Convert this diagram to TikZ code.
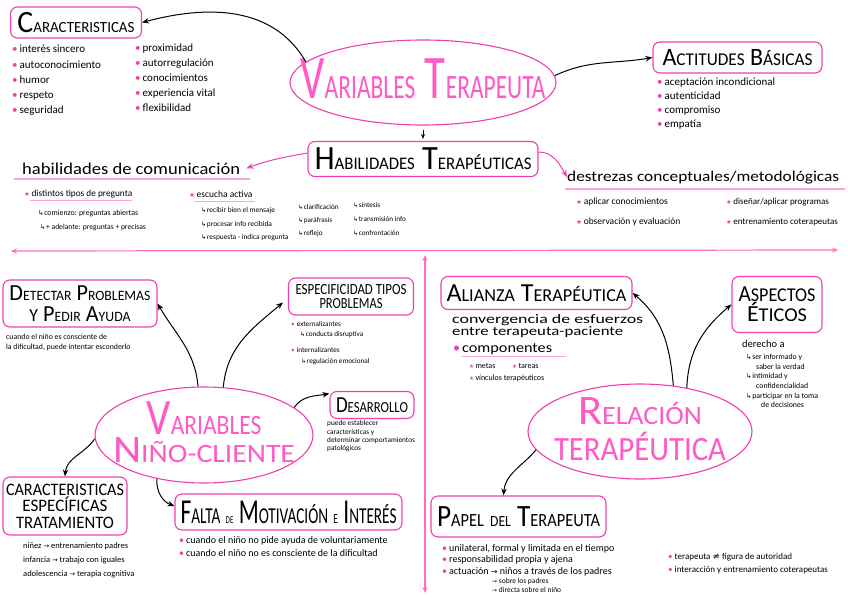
\documentclass[tikz,border=0pt]{standalone}
\usepackage{fontspec}
\setmainfont{Carlito}
\newfontfamily\symf{DejaVu Sans}
\usepackage{graphicx}
\usetikzlibrary{arrows.meta,shapes.geometric}
\definecolor{pk}{HTML}{F03FAE}
\definecolor{pkt}{HTML}{FF5AC6}
\definecolor{pkl}{HTML}{FFA3D9}
\definecolor{pkd}{HTML}{FF6CC8}
\newcommand\SC[3][0.6]{#2\scalebox{#1}{#3}}
\newcommand\fitw[2]{\resizebox{#1}{\height}{#2}}
\newcommand\bul{{\color{pk}\textbullet}\hspace{2pt}}
\newcommand\pst{{\symf\color{pk}\scalebox{0.7}{★}}}
\newcommand\subh{{\symf\scalebox{0.85}{↳}}\hspace{0.5pt}}
\newcommand\rarr{{\symf\scalebox{0.8}{→}}}
\newcommand\ctr[2][0pt]{\makebox[0pt]{\raisebox{#1}[0pt][0pt]{\raisebox{-0.5\height}{#2}}}}
\newcommand\twol[3]{\vbox{\baselineskip=#1\lineskiplimit=-100pt\halign{\hfil##\hfil\cr#2\cr#3\cr}}}
\begin{document}
\begin{tikzpicture}[x=1pt,y=-1pt,
 box/.style={draw=pk,line width=1.1pt,rounded corners=7pt,inner sep=0pt,align=center,text=black},
 ell/.style={draw=pk,line width=1.1pt,ellipse,inner sep=0pt,text=pkt},
 arr/.style={-{Stealth[length=7pt,width=5.5pt]},line width=1pt},
 parr/.style={-{Stealth[length=7pt,width=5.5pt]},line width=1pt,draw=pk},
 lst/.style={anchor=north west,align=left,inner sep=0pt},
 ln/.style={anchor=base west,inner sep=0pt},
 uline/.style={draw=pkl,line width=1.3pt},
 divl/.style={draw=pkd,line width=1.2pt,{Stealth[length=6pt,width=5pt]}-{Stealth[length=6pt,width=5pt]}}]
\path[use as bounding box,fill=white] (0,0) rectangle (848,599);

% ---------- top: variables terapeuta ----------
\node[ell,minimum width=266pt,minimum height=85pt] (vt) at (423,82.5)
  {\ctr[4pt]{\fontsize{62}{62}\selectfont\fitw{245pt}{\SC[0.55]{V}{ARIABLES} \SC[0.55]{T}{ERAPEUTA}}}};

\node[box,minimum width=131pt,minimum height=31pt] (car) at (76,22.5)
  {\fontsize{31}{31}\selectfont\fitw{117pt}{\SC[0.5]{C}{ARACTERISTICAS}}};
\node[lst,font=\fontsize{11}{15.3}\selectfont] (carl1) at (12,45)
  {\bul interés sincero\\\bul autoconocimiento\\\bul humor\\\bul respeto\\\bul seguridad};
\node[lst,font=\fontsize{11}{15}\selectfont] (carl2) at (135,44)
  {\bul proximidad\\\bul autorregulación\\\bul conocimientos\\\bul experiencia vital\\\bul flexibilidad};

\node[box,minimum width=169pt,minimum height=31pt] (act) at (737.5,57.5)
  {\fontsize{25}{25}\selectfont\fitw{150pt}{\SC[0.72]{A}{CTITUDES} \SC[0.72]{B}{ÁSICAS}}};
\node[lst,font=\fontsize{11}{14}\selectfont] (actl) at (657,77.5)
  {\bul aceptación incondicional\\\bul autenticidad\\\bul compromiso\\\bul empatía};

\node[box,minimum width=230pt,minimum height=35pt] (hab) at (423,159)
  {\fontsize{34}{34}\selectfont\fitw{217pt}{\SC[0.52]{H}{ABILIDADES} \SC[0.52]{T}{ERAPÉUTICAS}}};

\draw[arr] (vt.170) to[out=120,in=15] (car.east);
\draw[arr] (vt.3) to[out=25,in=190] (act.west);
\draw[arr,-{Stealth[length=5pt,width=4pt]},shorten <=4pt,shorten >=2pt] (vt.south) -- (hab.north);

% ---------- habilidades de comunicacion ----------
\node[ln,font=\fontsize{16.5}{16.5}\selectfont] (hdc) at (22,174) {\fitw{218pt}{habilidades de comunicación}};
\draw[uline] ([xshift=-8pt,yshift=-5pt]hdc.base west) -- ([xshift=10pt,yshift=-5pt]hdc.base east);
\draw[parr] ([yshift=6pt]hab.west) to[out=190,in=20] ([xshift=6pt]hdc.east);

\node[ln,font=\fontsize{9.3}{9.3}\selectfont] (dtp) at (24,196) {\pst\,distintos tipos de pregunta};
\draw[uline,line width=1pt] ([xshift=6pt,yshift=-4pt]dtp.base west) -- ([yshift=-4pt]dtp.base east);
\node[ln,font=\fontsize{7.8}{7.8}\selectfont] (dtp1) at (38,215) {\subh comienzo: preguntas abiertas};
\node[ln,font=\fontsize{7.6}{7.6}\selectfont] (dtp2) at (40,229) {\subh + adelante: preguntas + precisas};

\node[ln,font=\fontsize{9.5}{9.5}\selectfont] (esc) at (189,197) {\pst\,escucha activa};
\draw[uline,line width=1pt] ([xshift=5pt,yshift=-4pt]esc.base west) -- ([xshift=2pt,yshift=-4pt]esc.base east);
\node[lst,font=\fontsize{7.4}{13.5}\selectfont] (escl) at (201,207.5)
  {\subh recibir bien el mensaje\\\subh procesar info recibida\\\subh respuesta - indica pregunta};
\node[lst,font=\fontsize{7.2}{13}\selectfont] (escm) at (298,204)
  {\subh clarificación\\\subh paráfrasis\\\subh reflejo};
\node[lst,font=\fontsize{7.2}{14}\selectfont] (escr) at (353,202)
  {\subh síntesis\\\subh transmisión info\\\subh confrontación};

% ---------- destrezas ----------
\node[ln,font=\fontsize{15}{15}\selectfont] (dcm) at (567,181) {\fitw{272pt}{destrezas conceptuales/metodológicas}};
\draw[uline] ([xshift=-2pt,yshift=-8pt]dcm.base west) -- ([xshift=6pt,yshift=-8pt]dcm.base east);
\draw[parr] ([yshift=7pt]hab.east) to[out=0,in=120] (dcm.west);
\node[lst,font=\fontsize{9.5}{20}\selectfont] (dcl) at (576,198)
  {\pst\,aplicar conocimientos\\\pst\,observación y evaluación};
\node[lst,font=\fontsize{9}{20}\selectfont] (dcr) at (726,198)
  {\pst\,diseñar/aplicar programas\\\pst\,entrenamiento coterapeutas};

% ---------- dividers ----------
\coordinate (hl) at (11,251);
\coordinate (hr) at (838,250);
\coordinate (vtop) at (425,255);
\coordinate (vbot) at (425,593);
\draw[divl] (hl) -- (hr);
\draw[divl] (vtop) -- (vbot);

% ---------- variables nino-cliente ----------
\node[ell,minimum width=218pt,minimum height=96pt] (vn) at (204,435)
  {\ctr[2.5pt]{\twol{28pt}{\fontsize{51}{51}\selectfont\fitw{115pt}{\SC[0.55]{V}{ARIABLES}}}{\fontsize{39}{39}\selectfont\fitw{182pt}{\SC[0.68]{N}{IÑO-CLIENTE}}}}};

\node[box,minimum width=154pt,minimum height=47pt,font=\fontsize{23}{21}\selectfont] (det) at (80,303.5)
  {\fitw{141pt}{\SC[0.62]{D}{ETECTAR} \SC[0.62]{P}{ROBLEMAS}}\\\fitw{101pt}{\scalebox{0.8}{Y} \SC[0.62]{P}{EDIR} \SC[0.62]{A}{YUDA}}};
\node[lst,font=\fontsize{7.8}{10}\selectfont] (detl) at (6,333.5)
  {cuando el niño es consciente de\\la dificultad, puede intentar esconderlo};

\node[box,minimum width=125pt,minimum height=37pt,font=\fontsize{15.5}{14}\selectfont] (esp) at (351,296.5)
  {\fitw{111pt}{ESPECIFICIDAD TIPOS}\\\fitw{63pt}{PROBLEMAS}};
\node[ln,font=\fontsize{7.2}{7.2}\selectfont] (espa) at (291,326) {\bul externalizantes};
\node[ln,font=\fontsize{7.2}{7.2}\selectfont] (espb) at (300,336) {\subh conducta disruptiva};
\node[ln,font=\fontsize{7.2}{7.2}\selectfont] (espc) at (291,352) {\bul internalizantes};
\node[ln,font=\fontsize{7.2}{7.2}\selectfont] (espd) at (301,363) {\subh regulación emocional};

\node[box,minimum width=84pt,minimum height=27pt] (des) at (372,405)
  {\fontsize{23}{23}\selectfont\fitw{72pt}{\SC[0.67]{D}{ESARROLLO}}};
\node[lst,font=\fontsize{7.3}{8.4}\selectfont] (desl) at (327,420.5)
  {puede establecer\\características y\\determinar comportamientos\\patológicos};

\node[box,minimum width=124pt,minimum height=58pt,font=\fontsize{17.5}{16.5}\selectfont] (cet) at (65,506)
  {\fitw{118pt}{CARACTERISTICAS}\\\fitw{85pt}{ESPECÍFICAS}\\\fitw{98pt}{TRATAMIENTO}};
\node[lst,font=\fontsize{8.5}{14}\selectfont] (cetl) at (23,542)
  {niñez \rarr\ entrenamiento padres\\infancia \rarr\ trabajo con iguales\\adolescencia \rarr\ terapia cognitiva};

\node[box,minimum width=227pt,minimum height=36pt] (fal) at (288.5,512)
  {\fontsize{35}{35}\selectfont\fitw{216pt}{\SC[0.65]{F}{ALTA} \scalebox{0.3}{DE} \SC[0.65]{M}{OTIVACIÓN} \scalebox{0.4}{E} \SC[0.65]{I}{NTERÉS}}};
\node[lst,font=\fontsize{10}{13}\selectfont] (fall) at (179,536)
  {\bul cuando el niño no pide ayuda de voluntariamente\\\bul cuando el niño no es consciente de la dificultad};

\draw[arr] (vn.97) to[out=95,in=-60] (det.east);
\draw[arr] (vn.68) to[out=85,in=-140] ([xshift=-5pt,yshift=-6pt]esp.west);
\draw[arr] (vn.17) to[out=55,in=190] (des.165);
\draw[arr] (vn.182) to[out=235,in=85] (cet.north);
\draw[arr] (vn.223) to[out=265,in=160] ([yshift=6pt]fal.west);

% ---------- relacion terapeutica ----------
\node[ell,minimum width=224pt,minimum height=95pt] (rt) at (640,431.5)
  {\ctr[2pt]{\twol{36pt}{\fontsize{42}{42}\selectfont\fitw{124pt}{\SC[0.63]{R}{ELACIÓN}}}{\fontsize{34}{34}\selectfont\fitw{172pt}{TERAPÉUTICA}}}};

\node[box,minimum width=191pt,minimum height=33pt] (ali) at (536.5,293)
  {\fontsize{26}{26}\selectfont\fitw{180pt}{\SC[0.7]{A}{LIANZA} \SC[0.7]{T}{ERAPÉUTICA}}};
\node[ln,font=\fontsize{13}{13}\selectfont] (alt1) at (452,323) {\fitw{191pt}{convergencia de esfuerzos}};
\node[ln,font=\fontsize{13}{13}\selectfont] (alt2) at (452,335) {\fitw{171pt}{entre terapeuta-paciente}};
\node[ln,font=\fontsize{14}{14}\selectfont] (comp) at (453,352) {{\color{pk}\textbullet}\hspace{2pt}\fitw{90pt}{componentes}};
\draw[uline] ([xshift=9pt,yshift=-4.5pt]comp.base west) -- ([xshift=14pt,yshift=-4.5pt]comp.base east);
\node[ln,font=\fontsize{8}{8}\selectfont] (cm1) at (469,368) {\pst\,metas};
\node[ln,font=\fontsize{8}{8}\selectfont] (cm2) at (512,368) {\pst\,tareas};
\node[ln,font=\fontsize{8}{8}\selectfont] (cm3) at (469,380) {\pst\,vínculos terapéuticos};

\node[box,minimum width=90pt,minimum height=56pt,font=\fontsize{23}{20}\selectfont] (eti) at (777,304.5)
  {\fitw{77pt}{\SC[0.85]{A}{SPECTOS}}\\\fitw{60pt}{\SC[0.85]{É}{TICOS}}};
\node[ln,font=\fontsize{10.5}{10.5}\selectfont] (der) at (742,347) {derecho a};
\node[lst,font=\fontsize{7.8}{9.6}\selectfont] (derl) at (746,354)
  {\subh ser informado y\\\hspace{10pt}saber la verdad\\\subh intimidad y\\\hspace{10pt}confidencialidad\\\subh participar en la toma\\\hspace{15pt}de decisiones};

\node[box,minimum width=175pt,minimum height=41pt] (pap) at (518.5,516.5)
  {\fontsize{31}{31}\selectfont\fitw{163pt}{\SC[0.6]{P}{APEL} \scalebox{0.5}{DEL} \SC[0.6]{T}{ERAPEUTA}}};
\node[lst,font=\fontsize{10}{11.6}\selectfont] (papl) at (442,544)
  {\bul unilateral, formal y limitada en el tiempo\\\bul responsabilidad propia y ajena\\\bul actuación \rarr\ niños a través de los padres};
\node[ln,font=\fontsize{7.5}{7.5}\selectfont] (pap2) at (492,583) {\rarr\ sobre los padres};
\node[ln,font=\fontsize{7.5}{7.5}\selectfont] (pap3) at (492,592) {\rarr\ directa sobre el niño};
\node[lst,font=\fontsize{9}{13}\selectfont] (papr) at (668,553)
  {\bul terapeuta {\symf ≠} figura de autoridad\\\bul interacción y entrenamiento coterapeutas};

\draw[arr] (rt.54) to[out=95,in=-40] (ali.east);
\draw[arr] (rt.43) to[out=88,in=-140] (eti.west);
\draw[arr] (rt.190) to[out=230,in=85] ([xshift=-15pt]pap.north);
\end{tikzpicture}
\end{document}
